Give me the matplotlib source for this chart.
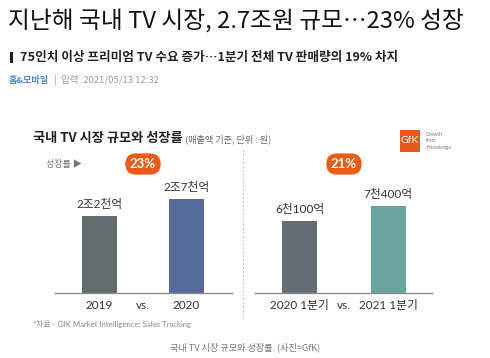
import matplotlib
matplotlib.use("Agg")
import matplotlib.pyplot as plt
from matplotlib.patches import Rectangle

plt.rcParams['font.family'] = ['Noto Sans CJK KR', 'DejaVu Sans']

W, H = 490, 358

# ---- data ----
left_categories = ["2019", "2020"]
left_values = [2.2, 2.7]            # 조원
left_labels = ["2조2천억", "2조7천억"]
left_growth = "23%"

right_categories = ["2020 1분기", "2021 1분기"]
right_values = [6100, 7400]         # 억원
right_labels = ["6천100억", "7천400억"]
right_growth = "21%"

left_colors = ["#626b6e", "#566a9c"]
right_colors = ["#636d73", "#6aa39d"]

title = "지난해 국내 TV 시장, 2.7조원 규모…23% 성장"
subtitle = "75인치 이상 프리미엄 TV 수요 증가…1분기 전체 TV 판매량의 19% 차지"
section = "홈&모바일"
meta = "  |  입력 :2021/05/13 12:32"
chart_title = "국내 TV 시장 규모와 성장률"
chart_sub = "(매출액 기준, 단위 : 원)"
source = "*자료 - GfK Market Intelligence: Sales Tracking"
caption = "국내 TV 시장 규모와 성장률. (사진=GfK)"

fig = plt.figure(figsize=(W / 100, H / 100), dpi=100)
fig.patch.set_facecolor("white")


def P(x, y):
    return x / W, 1 - y / H


def txt(x, y, s, **kw):
    return fig.text(*P(x, y), s, **kw)


CJK = ['Noto Sans CJK KR', 'DejaVu Sans']
LAT = ['Lato', 'Noto Sans CJK KR', 'DejaVu Sans']

# headline
txt(8, 21, title, fontsize=17.1, color="#111111", va="center", ha="left", family=CJK)
fig.patches.append(Rectangle(P(10, 63), 2.5 / W, 11 / H, transform=fig.transFigure,
                             facecolor="#222222", edgecolor="none"))
txt(20, 57, subtitle, fontsize=9.1, fontweight="bold", color="#222222",
    va="center", ha="left", family=CJK)
txt(9, 80, section, fontsize=6.6, fontweight="bold", color="#4a86c8",
    va="center", ha="left", family=CJK)
txt(50, 80, meta, fontsize=6.8, color="#9a9a9a", va="center", ha="left", family=CJK)

# chart header
txt(33, 138, chart_title, fontsize=9.5, fontweight="bold", color="#222222",
    va="center", ha="left", family=CJK)
txt(185, 139, chart_sub, fontsize=6.6, color="#666666", va="center", ha="left", family=CJK)

# GfK logo
fig.patches.append(Rectangle(P(400, 152), 20 / W, 22 / H, transform=fig.transFigure,
                             facecolor="#e55a1b", edgecolor="none"))
txt(410, 141, "GfK", fontsize=7.5, color="white", va="center", ha="center", family=LAT)
for i, w in enumerate(["Growth", "from", "Knowledge"]):
    txt(426, 134 + i * 6.5, w, fontsize=3.6, color="#777777", va="center", ha="left", family=LAT)

txt(46, 164, "성장률 ▶", fontsize=6.5, color="#777777", va="center", ha="left",
    family=['Noto Sans CJK KR', 'DejaVu Sans'])

# growth pills
for cx, g in [(143, left_growth), (344, right_growth)]:
    txt(cx, 164, g, fontsize=9.5, fontweight="bold", color="white", va="center", ha="center",
        family=LAT,
        bbox=dict(boxstyle="round,pad=0.35,rounding_size=0.8", facecolor="#e85c18",
                  edgecolor="none"))

# dotted divider
fig.add_artist(plt.Line2D([243 / W, 243 / W], [1 - 150 / H, 1 - 320 / H],
                          transform=fig.transFigure, color="#bbbbbb", lw=0.8,
                          linestyle=(0, (1.5, 2))))


def panel(x0, x1, centers, values, labels, cats, colors, ymax):
    top, base = 173, 293
    ax = fig.add_axes([x0 / W, 1 - base / H, (x1 - x0) / W, (base - top) / H])
    d = centers[1] - centers[0]
    pos = [0, 1]
    ax.bar(pos, values, width=35 / d, color=colors)
    ax.set_xlim(-(centers[0] - x0) / d, 1 + (x1 - centers[1]) / d)
    ax.set_ylim(0, ymax)
    for s in ["top", "right", "left"]:
        ax.spines[s].set_visible(False)
    ax.spines["bottom"].set_color("#888c90")
    ax.spines["bottom"].set_linewidth(1.0)
    ax.set_yticks([])
    ax.set_xticks(pos)
    ax.set_xticklabels(cats, fontsize=8.5, color="#333333", family=LAT)
    ax.tick_params(axis="x", length=0, pad=5)
    ax.patch.set_alpha(0)
    for p, v, l in zip(pos, values, labels):
        ax.annotate(l, (p, v), xytext=(0, 4), textcoords="offset points",
                    ha="center", va="bottom", fontsize=8.5, color="#333333", family=LAT)
    ax.annotate("vs.", (0.5, 0), xytext=(0, -9), textcoords="offset points",
                ha="center", va="center", fontsize=8.5, color="#333333", family=LAT,
                annotation_clip=False)
    return ax


panel(55, 232, [99.5, 186.5], left_values, left_labels, left_categories, left_colors,
      120 / 35)
panel(255, 432, [299.5, 388], right_values, right_labels, right_categories, right_colors,
      120 / 118 * 10000)

txt(33, 324, source, fontsize=5.6, color="#888888", va="center", ha="left", family=LAT)
txt(245, 347, caption, fontsize=6.6, color="#7a7a7a", va="center", ha="center", family=CJK)

fig.savefig("out.png", dpi=100, facecolor="white")
